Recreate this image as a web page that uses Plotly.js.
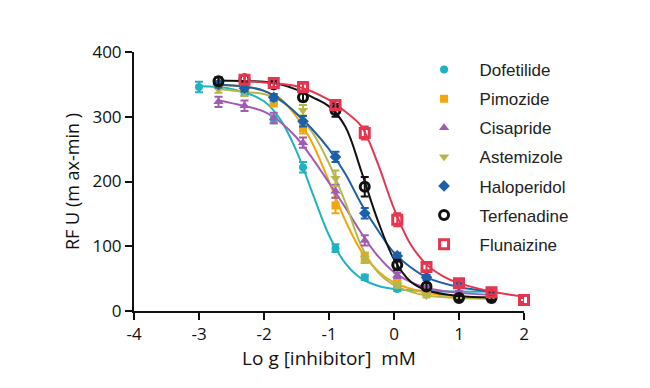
<!DOCTYPE html>
<html>
<head>
<meta charset="utf-8">
<script src="https://cdn.plot.ly/plotly-3.0.1.min.js"></script>
<style>html,body{margin:0;padding:0;background:#fff;}#chart{width:650px;height:388px;}</style>
</head>
<body>
<div id="chart"></div>
<script>
// Compound names
const names = ["Dofetilide","Pimozide","Cisapride","Astemizole","Haloperidol","Terfenadine","Flunaizine"];

// Measured points (log[inhibitor] mM, RFU) with error bars
const dofetilideX = [-3,-2.3,-1.85,-1.4,-0.9,-0.45,0.05,0.5];
const dofetilideY = [346,338,296,222,97,52,34,30];
const dofetilideErr = [8,5,6,8,6,4,3,3];

const pimozideX = [-2.7,-2.3,-1.85,-1.4,-0.9,-0.45,0.05,0.5,1,1.5];
const pimozideY = [350,345,322,282,163,82,44,28,22,18];
const pimozideErr = [5,5,6,8,12,8,4,3,3,3];

const cisaprideX = [-2.7,-2.3,-1.85,-1.4,-0.9,-0.45,0.05,0.5,1,1.5];
const cisaprideY = [323,317,298,260,185,109,55,36,28,25];
const cisaprideErr = [8,8,8,8,10,8,4,3,3,3];

const astemizoleX = [-2.7,-2.3,-1.85,-1.4,-0.9,-0.45,0.05,0.5,1,1.5];
const astemizoleY = [342,338,326,310,205,82,40,24,20,19];
const astemizoleErr = [5,6,5,8,12,8,4,3,3,3];

const haloperidolX = [-2.7,-2.3,-1.85,-1.4,-0.9,-0.45,0.05,0.5,1,1.5];
const haloperidolY = [350,344,330,293,238,151,85,52,40,28];
const haloperidolErr = [5,5,5,8,8,8,5,4,3,3];

const terfenadineX = [-2.7,-2.3,-1.85,-1.4,-0.9,-0.45,0.05,0.5,1,1.5];
const terfenadineY = [355,358,350,330,310,192,71,38,20,20];
const terfenadineErr = [6,6,5,6,10,15,8,5,3,3];

const flunaizineX = [-2.3,-1.85,-1.4,-0.9,-0.45,0.05,0.5,1,1.5,2];
const flunaizineY = [357,352,346,318,275,141,68,43,29,17];
const flunaizineErr = [6,6,5,8,10,10,5,4,3,3];

// Fitted curves
const dofetilideFitX = [-3,-2.5,-2,-1.75,-1.5,-1.25,-1,-0.75,-0.5,-0.25,0,0.5,1,1.5];
const dofetilideFitY = [347,343,324,296,247,181,117,74,50,39,34,31,30,30];

const pimozideFitX = [-2.7,-2.25,-2,-1.75,-1.5,-1.25,-1,-0.75,-0.5,-0.25,0,0.5,1,1.5];
const pimozideFitY = [350,346,340,328,300,258,200,140,92,62,44,28,22,20];

const cisaprideFitX = [-2.7,-2.5,-2,-1.75,-1.5,-1.25,-1,-0.75,-0.5,-0.25,0,0.25,0.5,1,1.5];
const cisaprideFitY = [325,321,308,292,268,235,198,160,120,85,60,45,36,28,25];

const astemizoleFitX = [-2.7,-2.25,-2,-1.75,-1.5,-1.25,-1,-0.75,-0.5,-0.25,0,0.25,0.5,1,1.5];
const astemizoleFitY = [343,338,335,325,305,275,228,168,100,60,40,30,24,20,19];

const haloperidolFitX = [-2.7,-2.25,-2,-1.75,-1.5,-1.25,-1,-0.75,-0.5,-0.25,0,0.25,0.5,1,1.5];
const haloperidolFitY = [350,346,340,326,305,280,250,212,165,125,90,68,52,37,30];

const terfenadineFitX = [-2.7,-2.25,-2,-1.75,-1.5,-1.25,-1,-0.75,-0.5,-0.25,0,0.25,0.5,1,1.5];
const terfenadineFitY = [356,355,354,350,342,330,316,285,215,140,80,46,32,23,21];

const flunaizineFitX = [-2.3,-2,-1.5,-1,-0.75,-0.5,-0.25,0,0.25,0.5,0.75,1,1.5,2];
const flunaizineFitY = [355,353,347,326,308,285,228,158,104,72,54,43,30,22];

const colors = ["#20b2c2","#f2a60c","#a15bb5","#b5b74b","#1d5fa8","#111111","#e5354f"];
const symbols = ["circle","square","triangle-up","triangle-down","diamond","circle-open","square-open"];
const sizes = [8,8,9,9,9,9,9];

const pts = [
  [dofetilideX,dofetilideY,dofetilideErr],
  [pimozideX,pimozideY,pimozideErr],
  [cisaprideX,cisaprideY,cisaprideErr],
  [astemizoleX,astemizoleY,astemizoleErr],
  [haloperidolX,haloperidolY,haloperidolErr],
  [terfenadineX,terfenadineY,terfenadineErr],
  [flunaizineX,flunaizineY,flunaizineErr]
];
const fits = [
  [dofetilideFitX,dofetilideFitY],
  [pimozideFitX,pimozideFitY],
  [cisaprideFitX,cisaprideFitY],
  [astemizoleFitX,astemizoleFitY],
  [haloperidolFitX,haloperidolFitY],
  [terfenadineFitX,terfenadineFitY],
  [flunaizineFitX,flunaizineFitY]
];

const traces = [];
for (let i = 0; i < names.length; i++) {
  traces.push({
    x: fits[i][0], y: fits[i][1], mode: "lines", type: "scatter",
    line: {color: colors[i], width: 2, shape: "spline", smoothing: 1},
    showlegend: false, hoverinfo: "skip", cliponaxis: false
  });
}
for (let i = 0; i < names.length; i++) {
  const open = symbols[i].indexOf("open") >= 0;
  traces.push({
    x: pts[i][0], y: pts[i][1], mode: "markers", type: "scatter", name: names[i],
    legendgroup: "g" + i,
    marker: {symbol: symbols[i], color: colors[i], size: sizes[i],
             line: {color: colors[i], width: open ? 3 : 0}},
    error_y: {type: "data", array: pts[i][2], visible: true, color: colors[i], thickness: 2, width: 4},
    cliponaxis: false
  });
}

const axisFont = {family: "Open Sans, Liberation Sans, sans-serif", size: 17, color: "#111"};
const titleFont = {family: "Open Sans, Liberation Sans, sans-serif", size: 19, color: "#111"};
const layout = {
  width: 650, height: 388,
  margin: {l: 134, r: 126, t: 52, b: 77},
  paper_bgcolor: "#fff", plot_bgcolor: "#fff",
  showlegend: true,
  legend: {
    x: 0.704, y: 1.0, xanchor: "left", yanchor: "top",
    font: {family: "Liberation Sans, Arial, sans-serif", size: 17, color: "#222"},
    itemwidth: 61,
    tracegroupgap: 4, bgcolor: "rgba(0,0,0,0)"
  },
  xaxis: {
    range: [-4, 2], tickvals: [-4,-3,-2,-1,0,1,2], ticktext: ["-4","-3","-2","-1","0","1","2"],
    showgrid: false, zeroline: false, showline: true, linecolor: "#111", linewidth: 2,
    ticks: "outside", ticklen: 7, tickwidth: 2, tickcolor: "#111",
    tickfont: axisFont,
    title: {text: "Lo g [inhibitor]  mM", font: titleFont, standoff: 6}
  },
  yaxis: {
    range: [0, 400], tickvals: [0,100,200,300,400],
    showgrid: false, zeroline: false, showline: true, linecolor: "#111", linewidth: 2,
    ticks: "outside", ticklen: 7, tickwidth: 2, tickcolor: "#111",
    tickfont: axisFont,
    title: {text: "RF U (m ax-min )", font: {family: "Open Sans, Liberation Sans, sans-serif", size: 18, color: "#111"}, standoff: 8}
  }
};

Plotly.newPlot("chart", traces, layout, {staticPlot: true, displayModeBar: false});
</script>
</body>
</html>
